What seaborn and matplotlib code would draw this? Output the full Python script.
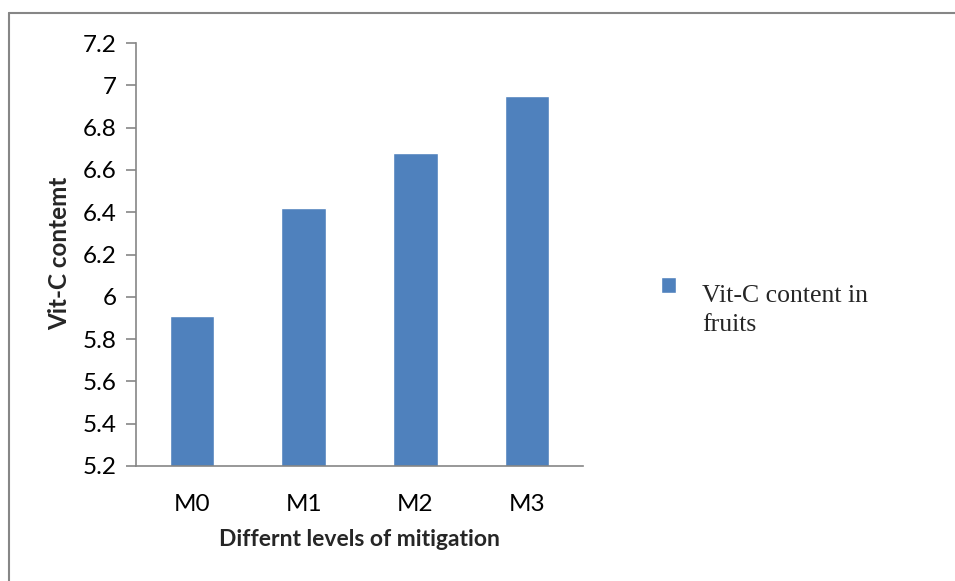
import matplotlib
matplotlib.use("Agg")
import matplotlib.pyplot as plt
from matplotlib.lines import Line2D
import seaborn as sns
import pandas as pd

categories = ["M0", "M1", "M2", "M3"]
values = [5.91, 6.42, 6.68, 6.95]
series_label = "Vit-C content in\nfruits"
y_ticks = [5.2, 5.4, 5.6, 5.8, 6.0, 6.2, 6.4, 6.6, 6.8, 7.0, 7.2]
y_tick_labels = ["5.2", "5.4", "5.6", "5.8", "6", "6.2", "6.4", "6.6", "6.8", "7", "7.2"]

sns.set_theme(style="white")
plt.rcParams['font.family'] = ['Lato', 'DejaVu Sans']

df = pd.DataFrame({"level": categories, "value": values, "series": series_label})

fig = plt.figure(figsize=(9.55, 5.81), dpi=100)
ax = fig.add_axes([136/955, 1 - 466/581, 447/955, 423/581])

sns.barplot(data=df, x="level", y="value", hue="series", palette=["#4F81BD"],
            width=0.4, ax=ax, saturation=1, legend=True)

ax.set_ylim(5.2, 7.2)
ax.set_xlim(-0.5, 3.5)
ax.set_yticks(y_ticks)
ax.set_yticklabels(y_tick_labels)
gray = "#868686"
for s in ["top", "right"]:
    ax.spines[s].set_visible(False)
for s in ["left", "bottom"]:
    ax.spines[s].set_color(gray)
    ax.spines[s].set_linewidth(1.2)
ax.tick_params(axis="y", length=7, width=1.2, color=gray, labelsize=17.5, pad=7,
               left=True, labelcolor="black")
ax.tick_params(axis="x", length=0, labelsize=17.5, pad=20, labelcolor="black")

ax.set_xlabel("Differnt levels of mitigation", fontsize=16.5, fontweight="bold", labelpad=10)
ax.set_ylabel("Vit-C contemt", fontsize=17.5, fontweight="bold")
ax.yaxis.set_label_coords(-0.145, 0.503)

leg = ax.legend(loc="upper left", bbox_to_anchor=(661/955, 1 - 285/581),
                bbox_transform=fig.transFigure, frameon=False,
                prop={"family": "Liberation Serif", "size": 18.5},
                handlelength=0.6, handleheight=0.6, handletextpad=1.0,
                borderpad=0, borderaxespad=0)
for t in leg.get_texts():
    t.set_linespacing(1.4)
for h in leg.legend_handles:
    h.set_y(h.get_y() + 18)

# frame lines (left and top)
fig.add_artist(Line2D([9/955, 9/955], [0, 1 - 13/581], transform=fig.transFigure,
                      color=gray, linewidth=1.5))
fig.add_artist(Line2D([9/955, 1], [1 - 13/581, 1 - 13/581], transform=fig.transFigure,
                      color=gray, linewidth=1.5))

fig.savefig("out.png", dpi=100)
